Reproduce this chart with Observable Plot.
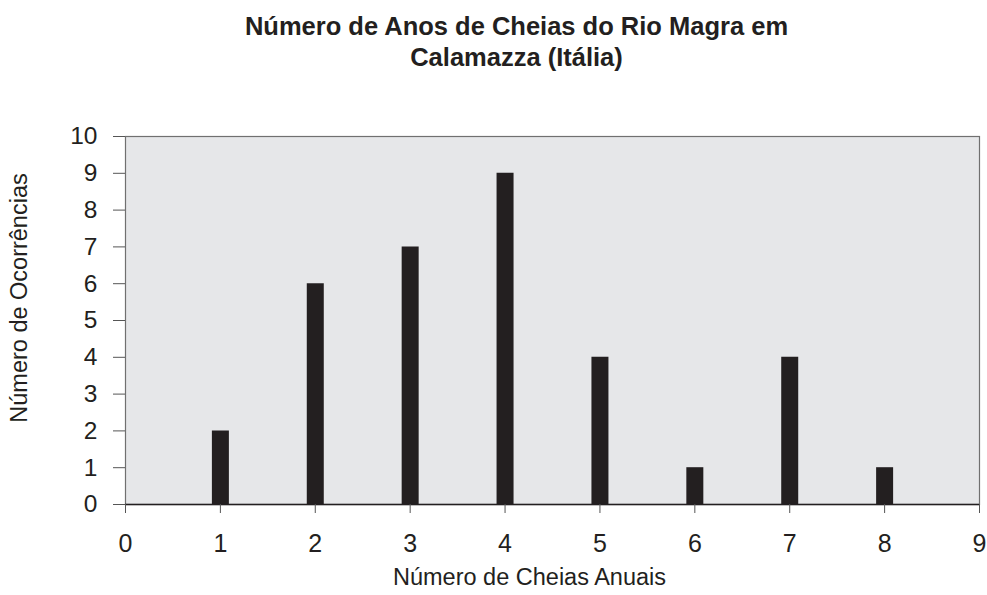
<!DOCTYPE html>
<html>
<head>
<meta charset="utf-8">
<script src="https://cdn.jsdelivr.net/npm/d3@7"></script>
<script src="https://cdn.jsdelivr.net/npm/@observablehq/plot@0.6"></script>
<style>
  html, body { margin: 0; padding: 0; background: #ffffff; }
  #wrap { width: 987px; height: 595px; position: relative; font-family: "Liberation Sans", Arial, sans-serif; color: #231f20; overflow: hidden; }
  #title { box-sizing: border-box; width: 987px; height: 100px; padding-top: 11px; padding-left: 46px;
           text-align: center; font-weight: bold; font-size: 25.5px; line-height: 31px; color: #231f20; }
  #ytitle { position: absolute; left: 20px; top: 297.5px; transform: translate(-50%, -50%) rotate(-90deg);
            white-space: nowrap; font-size: 23.5px; line-height: 1; color: #231f20; }
  svg { display: block; }
</style>
</head>
<body>
<div id="wrap">
  <div id="title">Número de Anos de Cheias do Rio Magra em<br>Calamazza (Itália)</div>
  <div id="chart"></div>
  <div id="ytitle"></div>
</div>
<script>
const cheias = [1, 2, 3, 4, 5, 6, 7, 8];
const ocorrencias = [2, 6, 7, 9, 4, 1, 4, 1];
const xTicks = [0, 1, 2, 3, 4, 5, 6, 7, 8, 9];
const yTicks = [0, 1, 2, 3, 4, 5, 6, 7, 8, 9, 10];
const xTitle = "Número de Cheias Anuais";
const yTitle = "Número de Ocorrências";

document.getElementById("ytitle").textContent = yTitle;

const data = cheias.map((k, i) => ({k, n: ocorrencias[i]}));

const chart = Plot.plot({
  width: 987,
  height: 495,
  marginLeft: 125,
  marginRight: 8,
  marginTop: 36,
  marginBottom: 91,
  style: {fontFamily: '"Liberation Sans", Arial, sans-serif', color: "#231f20", background: "#ffffff", overflow: "visible"},
  x: {domain: [0, 9]},
  y: {domain: [0, 10]},
  marks: [
    Plot.frame({fill: "#e6e7e9", stroke: "#707070", strokeWidth: 1.2}),
    Plot.ruleX(data, {x: "k", y1: 0, y2: "n", stroke: "#231f20", strokeWidth: 17}),
    Plot.ruleY([0], {stroke: "#231f20", strokeWidth: 1.5}),
    Plot.axisY({ticks: yTicks, tickSize: 12, tickPadding: 16, fontSize: 24.5, label: null, stroke: "#555555", fill: "#231f20", tickFormat: d => String(d)}),
    Plot.axisX({ticks: xTicks, tickSize: 9, tickPadding: 21, fontSize: 25, label: null, stroke: "#555555", fill: "#231f20", tickFormat: d => String(d)}),
    Plot.text([xTitle], {frameAnchor: "bottom", dx: -23, dy: 80, fontSize: 23.5, fill: "#231f20"})
  ]
});
document.getElementById("chart").appendChild(chart);
</script>
</body>
</html>
